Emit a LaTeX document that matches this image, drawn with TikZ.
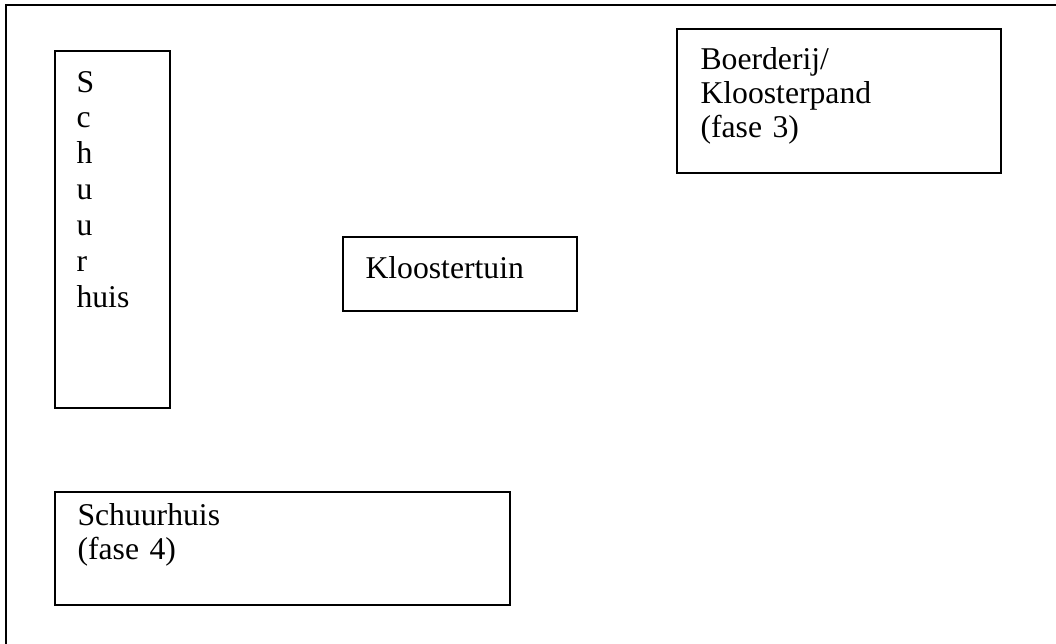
\documentclass[tikz,border=0pt]{standalone}
\usepackage{fontspec}
\setmainfont{Liberation Serif}
\usepackage{tikz}

\tikzset{
  plot/.style={draw, line width=0.8pt},
  bordtext/.style={anchor=base west, inner sep=0pt, text width=3cm, align=left,
    font=\fontsize{12}{12.9}\selectfont},
  bordtall/.style={bordtext, font=\fontsize{12}{13.6}\selectfont}
}

\begin{document}
\begin{tikzpicture}[x=0.3788pt, y=-0.3788pt]
\useasboundingbox (0,0) rectangle (1056,643);
\draw[line width=0.8pt] (6,660) -- (6,5) -- (1070,5);

\coordinate (sv1) at (55,51);   \coordinate (sv2) at (170,408);
\coordinate (bp1) at (677,29);  \coordinate (bp2) at (1001,173);
\coordinate (kt1) at (343,237); \coordinate (kt2) at (577,311);
\coordinate (sh1) at (55,492);  \coordinate (sh2) at (510,605);

\draw[plot] (sv1) rectangle (sv2);
\draw[plot] (bp1) rectangle (bp2);
\draw[plot] (kt1) rectangle (kt2);
\draw[plot] (sh1) rectangle (sh2);

\node[bordtall] (schuurv) at (76,92) {S\\c\\h\\u\\u\\r\\huis};
\node[bordtext] (boerderij) at (700,69.5) {Boerderij/\\Kloosterpand\\(fase 3)};
\node[bordtext] (tuin) at (365,278) {Kloostertuin};
\node[bordtext] (schuurhuis) at (77,525) {Schuurhuis\\(fase 4)};

\end{tikzpicture}
\end{document}
